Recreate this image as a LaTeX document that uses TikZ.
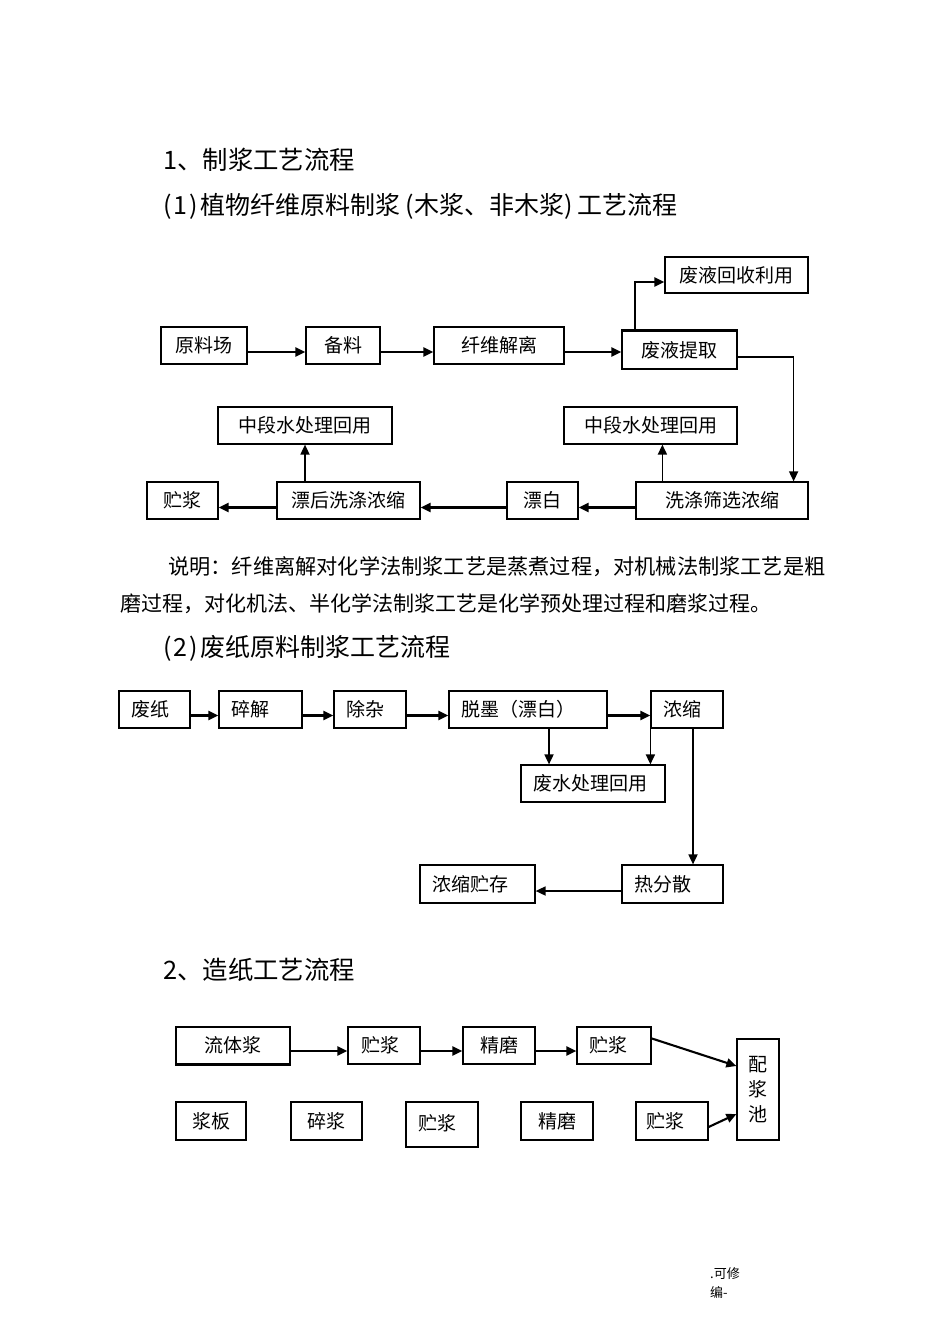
\documentclass[tikz,border=0pt]{standalone}
\usepackage{fontspec}
\setmainfont{Noto Sans CJK SC}
\usetikzlibrary{arrows.meta}

\begin{document}
\begin{tikzpicture}[x=1pt, y=-1pt]

\useasboundingbox (0,0) rectangle (950,1344);

% headings and notes
\begin{scope}[every node/.style={anchor=west, inner sep=0, text=black}]
    \node (T1) at (163,160) [font=\fontsize{25.4}{25}\selectfont] {1、制浆工艺流程};
    \node (T2) at (163,206) [font=\fontsize{25}{25}\selectfont] {(\kern2pt1\kern2pt)\kern3pt植物纤维原料制浆\kern5pt(木浆、非木浆)\kern5pt工艺流程};
    \node (N1) at (168,567) [font=\fontsize{21.2}{21.2}\selectfont] {说明：纤维离解对化学法制浆工艺是蒸煮过程，对机械法制浆工艺是粗};
    \node (N2) at (120,604) [font=\fontsize{21}{21}\selectfont] {磨过程，对化机法、半化学法制浆工艺是化学预处理过程和磨浆过程。};
    \node (T3) at (163,648) [font=\fontsize{25}{25}\selectfont] {(\kern2pt2\kern2pt)\kern3pt废纸原料制浆工艺流程};
    \node (T4) at (163,970) [font=\fontsize{25.4}{25}\selectfont] {2、造纸工艺流程};
    \node (F1) at (710,1274) [font=\fontsize{13}{13}\selectfont] {.可修};
    \node (F2) at (710,1292) [font=\fontsize{13}{13}\selectfont] {编-};
\end{scope}

% (1) plant fibre pulping
\begin{scope}[every node/.style={rectangle, draw, line width=1.2, minimum height=37, inner sep=0, font=\fontsize{19}{19}\selectfont}]

    \node (A) at (204,345.5) [minimum width=86] {原料场};
    \node (B) at (343,345.5) [minimum width=74] {备料};
    \node (C) at (499,345.5) [minimum width=130] {纤维解离};
    \node (D) at (679.5,350) [minimum width=115, minimum height=38] {废液提取};
    \node (E) at (736.5,275) [minimum width=143, minimum height=36] {废液回收利用};

    \node (F) at (722,500.5) [minimum width=172] {洗涤筛选浓缩};
    \node (G) at (542.5,500.5) [minimum width=71] {漂白};
    \node (H) at (348.5,500.5) [minimum width=143] {漂后洗涤浓缩};
    \node (I) at (182.5,500.5) [minimum width=71] {贮浆};
    \node (J) at (650.5,425.5) [minimum width=173] {中段水处理回用};
    \node (K) at (305,425.5) [minimum width=174] {中段水处理回用};
\end{scope}

% (2) waste paper pulping
\begin{scope}[every node/.style={rectangle, draw, line width=1.2, minimum height=37, inner xsep=12, inner ysep=0, align=left, font=\fontsize{19}{19}\selectfont}]

    \node (L) at (154.5,709.5) [text width=47] {废纸};
    \node (M) at (260.5,709.5) [text width=59] {碎解};
    \node (N) at (370,709.5) [text width=48] {除杂};
    \node (O) at (528,709.5) [text width=134] {脱墨（漂白）};
    \node (P) at (687,709.5) [text width=48] {浓缩};
    \node (Q) at (593,783.5) [text width=120] {废水处理回用};
    \node (R) at (672.5,884) [text width=77, minimum height=38] {热分散};
    \node (S) at (477.5,884) [text width=91, minimum height=38] {浓缩贮存};
\end{scope}

% 2 paper making
\begin{scope}[every node/.style={rectangle, draw, line width=1.2, minimum height=37, inner sep=0, font=\fontsize{19}{19}\selectfont}]

    \node (U1) at (233,1045.5) [minimum width=114] {流体浆};
    \node (U2) at (384,1045.5) [minimum width=72] {\hspace{-8pt}贮浆};
    \node (U3) at (499,1045.5) [minimum width=72] {精磨};
    \node (U4) at (614,1045.5) [minimum width=74] {\hspace{-12pt}贮浆};
    \node (W) at (758,1089.5) [minimum width=42, minimum height=101, align=center, font=\fontsize{19}{25}\selectfont] {配\\浆\\池};

    \node (V1) at (211,1121) [minimum width=70, minimum height=38] {浆板};
    \node (V2) at (326.5,1121) [minimum width=71, minimum height=38] {碎浆};
    \node (V3) at (442,1124.5) [minimum width=72, minimum height=45] {\hspace{-10pt}\raisebox{4pt}{贮浆}};
    \node (V4) at (557,1121) [minimum width=72, minimum height=38] {精磨};
    \node (V5) at (672,1121) [minimum width=72, minimum height=38] {\hspace{-14pt}贮浆};
\end{scope}

\draw [line width=2.2] (D.north west) -- (D.north east);
\draw [line width=2.2] (U1.south west) -- (U1.south east);

\begin{scope}[>={Triangle[length=10pt, width=9pt]},
              every edge/.style={draw, line width=2.1}
]
    \path [->] ([yshift=-6.5]A.east) edge ([yshift=-6.5]B.west);
    \path [->] ([yshift=-6.5]B.east) edge ([yshift=-6.5]C.west);
    \path [->] ([yshift=-6.5]C.east) edge ([yshift=-6.5]C.east -| D.west);
    \draw [->, line width=2] ([xshift=14]D.north west) |- ([yshift=-7]E.west);
    \draw [->, line width=1.5] ([yshift=-7]D.east) -| ([xshift=-15]F.north east);
    \path [->] ([yshift=-7]F.west) edge ([yshift=-7]G.east);
    \path [->] ([yshift=-7]G.west) edge ([yshift=-7]H.east);
    \path [->] ([yshift=-7]H.west) edge ([yshift=-7]I.east);
    \path [->, every edge/.append style={line width=1.7}] (K.south |- H.north) edge (K.south);
    \path [->, every edge/.append style={line width=1.7}] ([xshift=27]F.north west) edge ([xshift=27]F.north west |- J.south);

    \path [->] ([yshift=-6]L.east) edge ([yshift=-6]M.west);
    \path [->] ([yshift=-6]M.east) edge ([yshift=-6]N.west);
    \path [->] ([yshift=-6]N.east) edge ([yshift=-6]O.west);
    \path [->] ([yshift=-6]O.east) edge ([yshift=-6]P.west);
    \path [->, every edge/.append style={line width=1.7}] ([xshift=21]O.south) edge ([xshift=21]O.south |- Q.north);
    \path [->, every edge/.append style={line width=1.7}] (P.south west) edge (P.south west |- Q.north);
    \path [->, every edge/.append style={line width=1.7}] ([xshift=6]P.south) edge ([xshift=6]P.south |- R.north);
    \path [->, every edge/.append style={line width=1.7}] ([yshift=-7]R.west) edge ([yshift=-7]S.east);

    \path [->] ([yshift=-5.5]U1.east) edge ([yshift=-5.5]U2.west);
    \path [->] ([yshift=-5.5]U2.east) edge ([yshift=-5.5]U3.west);
    \path [->] ([yshift=-5.5]U3.east) edge ([yshift=-5.5]U4.west);
    \path [->] ([yshift=-12]U4.north east) edge ([yshift=23.5]W.west);
    \path [->] ([yshift=-6]V5.east) edge ([yshift=-24.5]W.west);
\end{scope}

\end{tikzpicture}
\end{document}
